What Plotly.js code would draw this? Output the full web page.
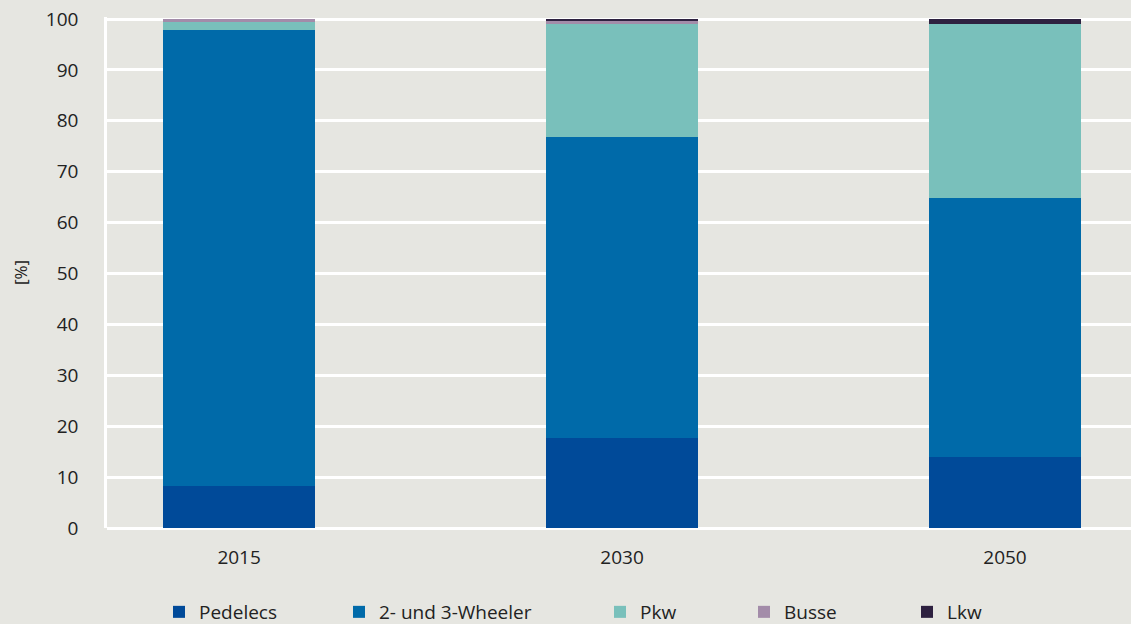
<!DOCTYPE html>
<html>
<head>
<meta charset="utf-8">
<script src="https://cdn.plot.ly/plotly-3.0.1.min.js"></script>
<style>html,body{margin:0;padding:0;background:#e6e6e1;}#chart{width:1131px;height:624px;}</style>
</head>
<body>
<div id="chart"></div>
<script>
// Data
var years = ['2015', '2030', '2050'];
var seriesNames = ['Pedelecs', '2- und 3-Wheeler', 'Pkw', 'Busse', 'Lkw'];
var pedelecs = [8.3, 17.7, 14.0];
var wheeler = [89.6, 59.1, 50.8];
var pkw = [1.5, 22.2, 34.2];
var busse = [0.6, 0.6, 0.0];
var lkw = [0.0, 0.4, 1.0];
var yTicks = [0, 10, 20, 30, 40, 50, 60, 70, 80, 90, 100];

var colors = ['#004a99', '#006aa9', '#79c0bb', '#a38ca9', '#2e2140'];
var values = [pedelecs, wheeler, pkw, busse, lkw];
var legendIds = ['legend', 'legend2', 'legend3', 'legend4', 'legend5'];
// text start (px): 200, 380, 641, 785, 948 -> legend left ~ text - 41
var legendLeftPx = [159, 339, 600, 744, 907];

var FONT = '"Open Sans", sans-serif';
var traces = values.map(function (v, i) {
  return {
    type: 'bar',
    name: seriesNames[i],
    x: years,
    y: v,
    width: 0.397,
    marker: {color: colors[i], line: {width: 0}},
    legend: legendIds[i],
    showlegend: true,
    hoverinfo: 'name+y'
  };
});

var layout = {
  width: 1131,
  height: 624,
  paper_bgcolor: '#e6e6e1',
  plot_bgcolor: '#e6e6e1',
  barmode: 'stack',
  showlegend: true,
  margin: {l: 107, r: 0, t: 17, b: 96, autoexpand: false},
  font: {family: FONT, size: 19, color: '#222222'},
  xaxis: {
    type: 'category',
    range: [-0.345, 2.329],
    showgrid: false,
    zeroline: false,
    showline: false,
    ticks: '',
    ticklabelstandoff: 16,
    automargin: false,
    tickfont: {family: FONT, size: 19, color: '#222222'}
  },
  yaxis: {
    range: [0, 100.4],
    tickvals: yTicks,
    ticktext: yTicks.map(String),
    showgrid: true,
    gridcolor: '#ffffff',
    gridwidth: 2.5,
    zeroline: true,
    zerolinecolor: '#ffffff',
    zerolinewidth: 2.5,
    showline: true,
    linecolor: '#ffffff',
    linewidth: 2.5,
    ticks: '',
    ticklabelstandoff: 22,
    automargin: false,
    tickfont: {family: FONT, size: 19, color: '#222222'},
    title: {text: '[%]', font: {family: FONT, size: 17, color: '#222222'}, standoff: 14}
  }
};

legendIds.forEach(function (id, i) {
  layout[id] = {
    orientation: 'h',
    xref: 'container',
    yref: 'container',
    x: legendLeftPx[i] / 1131,
    xanchor: 'left',
    y: (624 - 612) / 624,
    yanchor: 'middle',
    bgcolor: 'rgba(0,0,0,0)',
    borderwidth: 0,
    font: {family: FONT, size: 19, color: '#222222'}
  };
});

Plotly.newPlot('chart', traces, layout, {displayModeBar: false, responsive: false});
</script>
</body>
</html>
